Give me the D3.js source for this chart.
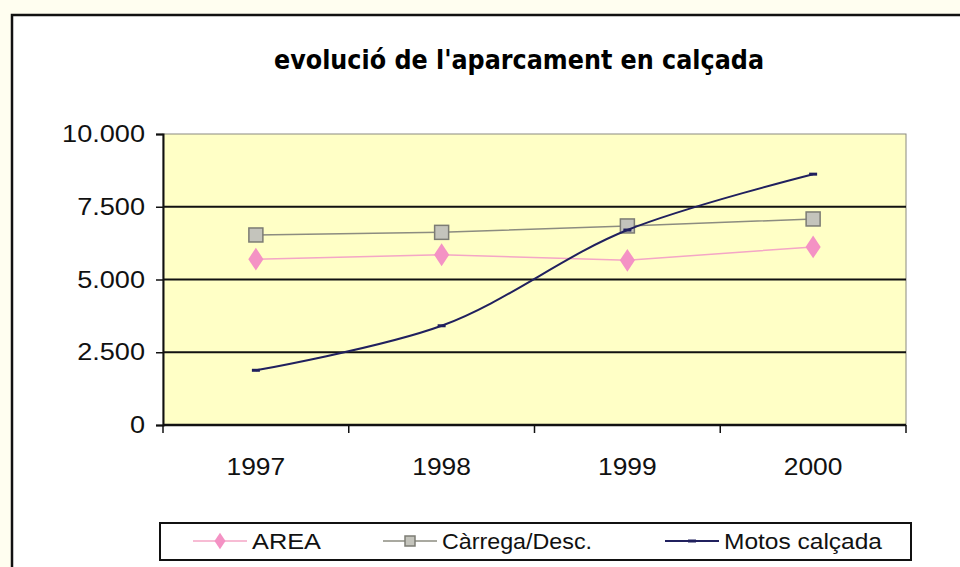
<!DOCTYPE html>
<html>
<head>
<meta charset="utf-8">
<script src="https://cdn.jsdelivr.net/npm/d3@7"></script>
<style>
  html, body { margin: 0; padding: 0; background: #fffef0; }
  svg { display: block; }
</style>
</head>
<body>
<svg class="chart"></svg>
<script>
const years = ["1997", "1998", "1999", "2000"];
const areaValues = [5700, 5850, 5660, 6120];
const carregaValues = [6530, 6620, 6840, 7080];
const motosValues = [1880, 3410, 6700, 8620];
const yTicks = [0, 2500, 5000, 7500, 10000];
const seriesNames = ["AREA", "Càrrega/Desc.", "Motos calçada"];

const canvas = {width: 960, height: 567};
const plot = {left: 163, right: 906, top: 134, bottom: 425};

const svg = d3.select(".chart")
    .attr("width", canvas.width)
    .attr("height", canvas.height);

// the old chart font renders a bit wider than Arial
function widen(sel, k) {
    sel.each(function() {
        const w = this.getComputedTextLength();
        d3.select(this).attr("textLength", w * k).attr("lengthAdjust", "spacingAndGlyphs");
    });
}

// outer chart frame
svg.append("rect")
    .attr("x", 12).attr("y", 15)
    .attr("width", 980).attr("height", 600)
    .attr("fill", "#ffffff")
    .attr("stroke", "#111").attr("stroke-width", 2.5);

svg.append("text")
    .attr("x", 519).attr("y", 69)
    .attr("text-anchor", "middle")
    .attr("font-family", "'DejaVu Sans Condensed', 'DejaVu Sans', sans-serif")
    .attr("font-weight", "bold")
    .attr("font-size", 26)
    .attr("textLength", 490)
    .attr("lengthAdjust", "spacingAndGlyphs")
    .text("evolució de l'aparcament en calçada");

const x = d3.scaleBand().domain(years).range([plot.left, plot.right]);
const y = d3.scaleLinear().domain([0, 10000]).range([plot.bottom, plot.top]);

svg.append("rect")
    .attr("x", plot.left).attr("y", plot.top)
    .attr("width", plot.right - plot.left).attr("height", plot.bottom - plot.top)
    .attr("fill", "#ffffc6")
    .attr("stroke", "#8a8a80").attr("stroke-width", 1);

// gridlines
svg.append("g")
    .selectAll("line")
    .data(yTicks.filter(d => d > 0 && d < 10000))
    .enter().append("line")
    .attr("x1", plot.left).attr("x2", plot.right)
    .attr("y1", d => y(d)).attr("y2", d => y(d))
    .attr("stroke", "#111").attr("stroke-width", 2);

const fmt = d => d3.format(",")(d).replace(/,/g, ".");

const yAxis = svg.append("g")
    .attr("transform", "translate(" + plot.left + ",0)")
    .call(d3.axisLeft(y).tickValues(yTicks).tickFormat(fmt).tickSize(7).tickPadding(11));
yAxis.select(".domain").attr("stroke", "#111").attr("stroke-width", 2);
yAxis.selectAll(".tick line").attr("stroke", "#111").attr("stroke-width", 1.5);
yAxis.selectAll("text")
    .attr("font-family", "'Liberation Sans', Arial, sans-serif")
    .attr("font-size", 24).attr("fill", "#111")
    .call(widen, 1.13);

const xAxis = svg.append("g")
    .attr("transform", "translate(0," + plot.bottom + ")");
xAxis.append("line")
    .attr("x1", plot.left).attr("x2", plot.right)
    .attr("stroke", "#111").attr("stroke-width", 2.5);
xAxis.selectAll(".xtick")
    .data(years.concat(["end"]))
    .enter().append("line")
    .attr("x1", (d, i) => i < years.length ? x(d) : plot.right)
    .attr("x2", (d, i) => i < years.length ? x(d) : plot.right)
    .attr("y1", 0).attr("y2", 8)
    .attr("stroke", "#111").attr("stroke-width", 1.5);
xAxis.selectAll("text")
    .data(years)
    .enter().append("text")
    .attr("x", d => x(d) + x.bandwidth() / 2)
    .attr("y", 50)
    .attr("text-anchor", "middle")
    .attr("font-family", "'Liberation Sans', Arial, sans-serif")
    .attr("font-size", 24).attr("fill", "#111")
    .text(d => d)
    .call(widen, 1.1);

const cx = d => x(d) + x.bandwidth() / 2;

const series = [
    {name: seriesNames[0], values: areaValues, color: "#f4a6c6", marker: "diamond", fill: "#f492c4", stroke: "#f492c4", width: 1.5},
    {name: seriesNames[1], values: carregaValues, color: "#8c8c80", marker: "square", fill: "#c4c4bc", stroke: "#7c7c74", width: 1.5},
    {name: seriesNames[2], values: motosValues, color: "#20205e", marker: "dash", fill: "#20205e", stroke: "#20205e", width: 2}
];

function drawMarker(g, type, px, py, s) {
    if (type === "diamond") {
        g.append("path")
            .attr("d", d3.symbol(d3.symbolDiamond, s.size || 150)())
            .attr("transform", "translate(" + px + "," + py + ") scale(1.15,1)")
            .attr("fill", s.fill);
    } else if (type === "square") {
        const h = s.half || 7;
        g.append("rect")
            .attr("x", px - h).attr("y", py - h)
            .attr("width", 2 * h).attr("height", 2 * h)
            .attr("fill", s.fill).attr("stroke", s.stroke).attr("stroke-width", 1.5);
    } else {
        g.append("line")
            .attr("x1", px - 4).attr("x2", px + 4)
            .attr("y1", py).attr("y2", py)
            .attr("stroke", s.fill).attr("stroke-width", 3);
    }
}

const line = d3.line()
    .x((d, i) => cx(years[i]))
    .y(d => y(d));

series.forEach(s => {
    svg.append("path")
        .datum(s.values)
        .attr("fill", "none")
        .attr("stroke", s.color)
        .attr("stroke-width", s.width)
        .attr("d", s.marker === "dash" ? line.curve(d3.curveCatmullRom.alpha(1))(s.values) : line.curve(d3.curveLinear)(s.values));
    const g = svg.append("g");
    s.values.forEach((v, i) => drawMarker(g, s.marker, cx(years[i]), y(v), s));
});

// legend
const legend = svg.append("g");
legend.append("rect")
    .attr("x", 160).attr("y", 523)
    .attr("width", 751).attr("height", 37)
    .attr("fill", "#fff")
    .attr("stroke", "#111").attr("stroke-width", 2);

const legendX = [193, 383, 665];
const legendTextWidth = [69, 150, 158];
series.forEach((s, i) => {
    const lx = legendX[i];
    legend.append("line")
        .attr("x1", lx).attr("x2", lx + 54)
        .attr("y1", 541).attr("y2", 541)
        .attr("stroke", s.color).attr("stroke-width", s.width);
    drawMarker(legend, s.marker, lx + 27, 541, Object.assign({}, s, {size: 80, half: 5}));
    legend.append("text")
        .attr("x", lx + 59).attr("y", 549)
        .attr("font-family", "'Liberation Sans', Arial, sans-serif")
        .attr("font-size", 22).attr("fill", "#111")
        .attr("textLength", legendTextWidth[i])
        .attr("lengthAdjust", "spacingAndGlyphs")
        .text(s.name);
});
</script>
</body>
</html>
